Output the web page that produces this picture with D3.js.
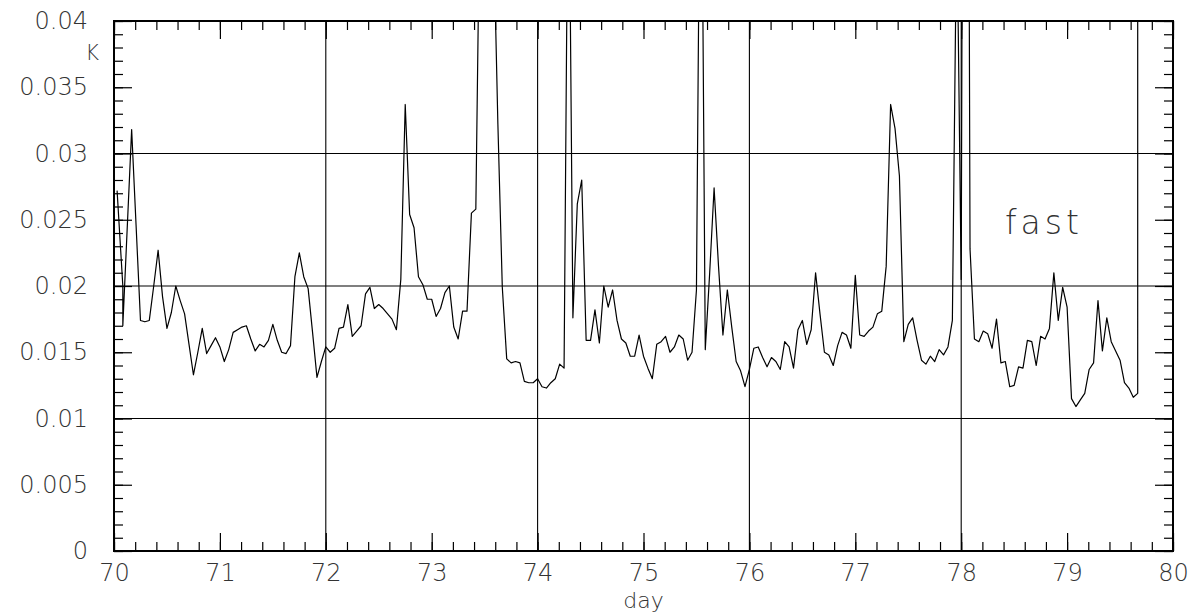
<!DOCTYPE html>
<html>
<head>
<meta charset="utf-8">
<script src="https://cdn.jsdelivr.net/npm/d3@7"></script>
<style>
  body { margin: 0; background: #fff; }
  svg { display: block; }
</style>
</head>
<body>
<svg id="chart" width="1196" height="613"></svg>
<script>
// hourly samples, hours counted from the start of day 70
var hourOffsets = [
  0.7, 2, 2, 4, 5, 6, 7, 8, 9, 10, 11, 12, 13, 14, 15, 16, 17, 18, 19, 20, 21, 22, 23,
  24, 25, 26, 27, 28, 29, 30, 31, 32, 33, 34, 35, 36, 37, 38, 39, 40, 41, 42, 43, 44, 45, 46, 47,
  48, 49, 50, 51, 52, 53, 54, 55, 56, 57, 58, 59, 60, 61, 62, 63, 64, 65, 66, 67, 68, 69, 70, 71,
  72, 73, 74, 75, 76, 77, 78, 79, 80, 81, 82, 83, 84, 85, 86, 87, 88, 89, 90, 91, 92, 93, 94, 95,
  96, 97, 98, 99, 100, 101, 102, 103, 104, 105, 106, 107, 108, 109, 110, 111, 112, 113, 114, 115, 116, 117, 118, 119,
  120, 121, 122, 123, 124, 125, 126, 127, 128, 129, 130, 131, 132, 133, 134, 135, 136, 137, 138, 139, 140, 141, 142, 143,
  144, 145, 146, 147, 148, 149, 150, 151, 152, 153, 154, 155, 156, 157, 158, 159, 160, 161, 162, 163, 164, 165, 166, 167,
  168, 169, 170, 171, 172, 173, 174, 175, 176, 177, 178, 179, 180, 181, 182, 183, 184, 185, 186, 187, 188, 189, 190, 191,
  192, 193, 194, 195, 196, 197, 198, 199, 200, 201, 202, 203, 204, 205, 206, 207, 208, 209, 210, 211, 212, 213, 214, 215,
  216, 217, 218, 219, 220, 221, 222, 223, 224, 225, 226, 227, 228, 229, 230, 231, 232, 232
];

var kValues = [
  0.0272, 0.0200, 0.0170, 0.0318, 0.0246, 0.0174, 0.0173, 0.0174, 0.0200, 0.0227, 0.0192, 0.0168, 0.0180, 0.0200, 0.0189, 0.0179, 0.0156, 0.0133, 0.0150, 0.0168, 0.0149, 0.0155, 0.0161,
  0.0154, 0.0143, 0.0152, 0.0165, 0.0167, 0.0169, 0.0170, 0.0160, 0.0151, 0.0156, 0.0154, 0.0159, 0.0171, 0.0159, 0.0150, 0.0149, 0.0155, 0.0207, 0.0225, 0.0207, 0.0198, 0.0165, 0.0131, 0.0143,
  0.0154, 0.0150, 0.0153, 0.0168, 0.0169, 0.0186, 0.0162, 0.0166, 0.0170, 0.0194, 0.0199, 0.0183, 0.0186, 0.0183, 0.0179, 0.0175, 0.0167, 0.0205, 0.0337, 0.0254, 0.0244, 0.0207, 0.0201, 0.0190,
  0.0190, 0.0177, 0.0183, 0.0195, 0.0200, 0.0169, 0.0160, 0.0181, 0.0181, 0.0255, 0.0258, 0.0519, 0.0600, 0.0550, 0.0470, 0.0322, 0.0199, 0.0145, 0.0142, 0.0143, 0.0142, 0.0128, 0.0127, 0.0127,
  0.0130, 0.0124, 0.0123, 0.0127, 0.0130, 0.0141, 0.0138, 0.0570, 0.0176, 0.0262, 0.0280, 0.0159, 0.0159, 0.0182, 0.0157, 0.0200, 0.0184, 0.0197, 0.0174, 0.0160, 0.0157, 0.0147, 0.0147, 0.0163,
  0.0147, 0.0138, 0.0130, 0.0156, 0.0158, 0.0162, 0.0150, 0.0154, 0.0163, 0.0160, 0.0144, 0.0150, 0.0197, 0.0620, 0.0152, 0.0210, 0.0274, 0.0215, 0.0163, 0.0197, 0.0169, 0.0143, 0.0136, 0.0124,
  0.0137, 0.0153, 0.0154, 0.0146, 0.0139, 0.0146, 0.0143, 0.0137, 0.0158, 0.0154, 0.0138, 0.0167, 0.0174, 0.0156, 0.0167, 0.0210, 0.0179, 0.0150, 0.0148, 0.0140, 0.0155, 0.0165, 0.0163, 0.0153,
  0.0208, 0.0163, 0.0162, 0.0166, 0.0169, 0.0179, 0.0181, 0.0215, 0.0337, 0.0319, 0.0283, 0.0158, 0.0171, 0.0176, 0.0159, 0.0144, 0.0141, 0.0147, 0.0143, 0.0152, 0.0148, 0.0154, 0.0174, 0.0487,
  0.0205, 0.1300, 0.0228, 0.0160, 0.0158, 0.0166, 0.0164, 0.0153, 0.0175, 0.0142, 0.0143, 0.0124, 0.0125, 0.0139, 0.0138, 0.0159, 0.0158, 0.0140, 0.0162, 0.0160, 0.0168, 0.0210, 0.0174, 0.0199,
  0.0184, 0.0115, 0.0109, 0.0114, 0.0119, 0.0137, 0.0142, 0.0189, 0.0151, 0.0176, 0.0158, 0.0151, 0.0144, 0.0127, 0.0123, 0.0116, 0.0119, 0.0600
];

var dayTicks = [70, 71, 72, 73, 74, 75, 76, 77, 78, 79, 80];
var kTicks = [0, 0.005, 0.01, 0.015, 0.02, 0.025, 0.03, 0.035, 0.04];
var kTickLabels = ["0", "0.005", "0.01", "0.015", "0.02", "0.025", "0.03", "0.035", "0.04"];
var dayGrid = [72, 74, 76, 78];
var kGrid = [0.01, 0.02, 0.03];

var svg = d3.select("#chart");
var margin = { top: 21, right: 23, bottom: 62, left: 114 };
var width = svg.attr("width") - margin.left - margin.right;
var height = svg.attr("height") - margin.top - margin.bottom;
var font = "'DejaVu Sans', sans-serif";

svg.append("rect").attr("width", 1196).attr("height", 613).attr("fill", "#fff");

var x = d3.scaleLinear().domain([70, 80]).range([0, width]);
var y = d3.scaleLinear().domain([0, 0.04]).range([height, 0]);

var g = svg.append("g")
    .attr("transform", "translate(" + margin.left + "," + margin.top + ")");

// grid lines
g.selectAll(".hgrid").data(kGrid).enter().append("line")
    .attr("x1", 0).attr("x2", width)
    .attr("y1", function (d) { return y(d); }).attr("y2", function (d) { return y(d); })
    .attr("stroke", "#000").attr("stroke-width", 1.1);
g.selectAll(".vgrid").data(dayGrid).enter().append("line")
    .attr("y1", 0).attr("y2", height)
    .attr("x1", function (d) { return x(d); }).attr("x2", function (d) { return x(d); })
    .attr("stroke", "#000").attr("stroke-width", 1.1);

// data line, clipped to the frame
g.append("clipPath").attr("id", "plotclip")
    .append("rect").attr("width", width).attr("height", height);

var line = d3.line()
    .x(function (d, i) { return x(70 + hourOffsets[i] / 24); })
    .y(function (d) { return y(d); });

g.append("path")
    .datum(kValues)
    .attr("clip-path", "url(#plotclip)")
    .attr("fill", "none")
    .attr("stroke", "#000")
    .attr("stroke-width", 1.2)
    .attr("stroke-linejoin", "round")
    .attr("d", line);

// inward ticks on all four sides
var dayMinor = d3.range(70, 80.001, 0.2);
var kMinor = d3.range(0, 0.04001, 0.001);

function styleAxis(sel) {
    sel.select(".domain").remove();
    sel.selectAll(".tick line").attr("stroke", "#000").attr("stroke-width", 1.2);
    sel.attr("font-family", font).attr("font-size", 24).attr("font-weight", 200);
    sel.selectAll("text").attr("fill", "#333");
}

g.append("g").attr("transform", "translate(0," + height + ")")
    .call(d3.axisBottom(x).tickValues(dayMinor).tickSize(-9).tickFormat(""))
    .call(styleAxis);
g.append("g").attr("transform", "translate(0," + height + ")")
    .call(d3.axisBottom(x).tickValues(dayTicks).tickSize(-18).tickPadding(13).tickFormat(d3.format("d")))
    .call(styleAxis);
g.append("g")
    .call(d3.axisTop(x).tickValues(dayMinor).tickSize(-9).tickFormat(""))
    .call(styleAxis);
g.append("g")
    .call(d3.axisTop(x).tickValues(dayTicks).tickSize(-18).tickFormat(""))
    .call(styleAxis);

g.append("g")
    .call(d3.axisLeft(y).tickValues(kMinor).tickSize(-9).tickFormat(""))
    .call(styleAxis);
g.append("g")
    .call(d3.axisLeft(y).tickValues(kTicks).tickSize(-18).tickPadding(26)
        .tickFormat(function (d, i) { return kTickLabels[i]; }))
    .call(styleAxis);
g.append("g").attr("transform", "translate(" + width + ",0)")
    .call(d3.axisRight(y).tickValues(kMinor).tickSize(-9).tickFormat(""))
    .call(styleAxis);
g.append("g").attr("transform", "translate(" + width + ",0)")
    .call(d3.axisRight(y).tickValues(kTicks).tickSize(-18).tickFormat(""))
    .call(styleAxis);

// frame
g.append("rect")
    .attr("width", width).attr("height", height)
    .attr("fill", "none").attr("stroke", "#000").attr("stroke-width", 2);

// axis titles and annotation
svg.append("text")
    .attr("x", 99).attr("y", 60)
    .attr("text-anchor", "end")
    .attr("font-family", font).attr("font-size", 21).attr("font-weight", 200)
    .attr("fill", "#333")
    .text("K");

svg.append("text")
    .attr("x", margin.left + width / 2).attr("y", 608)
    .attr("text-anchor", "middle")
    .attr("font-family", font).attr("font-size", 22).attr("font-weight", 200)
    .attr("fill", "#333")
    .text("day");

svg.append("text")
    .attr("x", 1005).attr("y", 234)
    .attr("font-family", font).attr("font-size", 33).attr("font-weight", 200)
    .attr("letter-spacing", 4)
    .attr("fill", "#333")
    .text("fast");
</script>
</body>
</html>
